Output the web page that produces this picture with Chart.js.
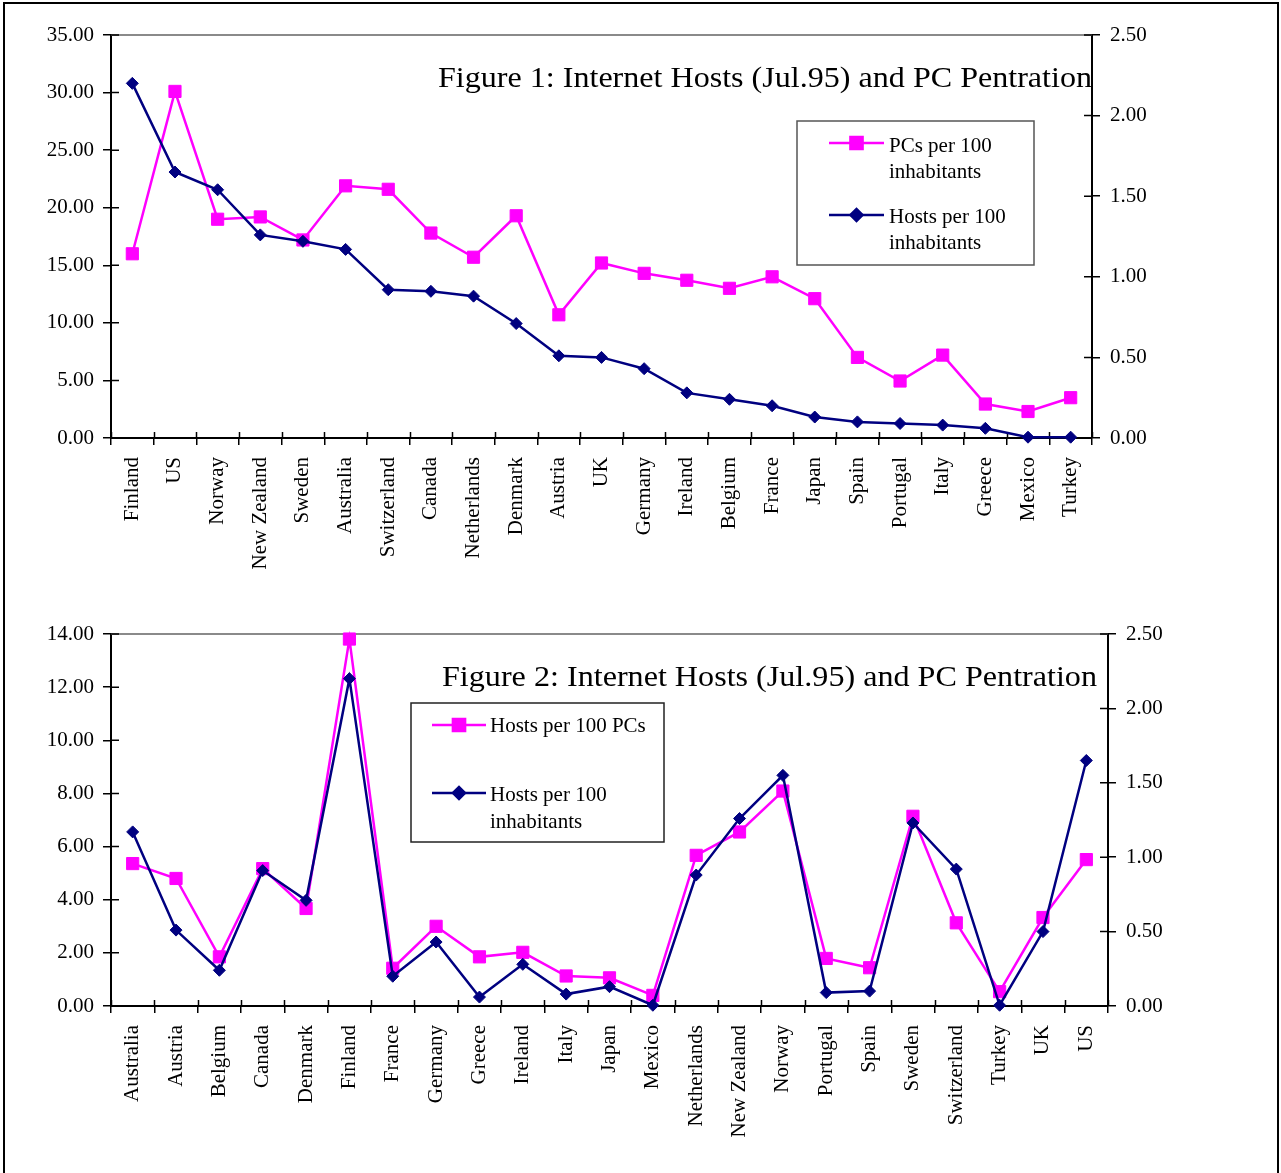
<!DOCTYPE html>
<html>
<head>
<meta charset="utf-8">
<title>Internet Hosts (Jul.95) and PC Pentration</title>
<script src="https://cdn.jsdelivr.net/npm/chart.js@4.4.1/dist/chart.umd.min.js"></script>
<style>
  html, body { margin: 0; padding: 0; background: #fff; }
  body { width: 1281px; height: 1173px; position: relative; overflow: hidden; }
  #frame { position: absolute; left: 3px; top: 2px; width: 1272px; height: 1180px; border: 2px solid #000; }
  canvas { position: absolute; left: 0; }
  #fig1 { top: 0; }
  #fig2 { top: 600px; }
</style>
</head>
<body>
<div id="frame"></div>
<canvas id="fig1" width="1281" height="600"></canvas>
<canvas id="fig2" width="1281" height="573"></canvas>
<script>
// ---- Figure 1: countries ranked by hosts per 100 inhabitants ----
const fig1Countries = ['Finland', 'US', 'Norway', 'New Zealand', 'Sweden', 'Australia', 'Switzerland',
  'Canada', 'Netherlands', 'Denmark', 'Austria', 'UK', 'Germany', 'Ireland', 'Belgium', 'France',
  'Japan', 'Spain', 'Portugal', 'Italy', 'Greece', 'Mexico', 'Turkey'];
const fig1PCsPer100Inhabitants = [16.0, 30.1, 19.0, 19.2, 17.2, 21.9, 21.6, 17.8, 15.7, 19.3, 10.7, 15.2,
  14.3, 13.7, 13.0, 14.0, 12.1, 7.0, 4.95, 7.2, 2.95, 2.3, 3.5];
const fig1HostsPer100Inhabitants = [2.20, 1.65, 1.54, 1.26, 1.22, 1.17, 0.92, 0.91, 0.88, 0.71, 0.51, 0.50,
  0.43, 0.28, 0.24, 0.20, 0.13, 0.10, 0.09, 0.08, 0.06, 0.005, 0.005];

// ---- Figure 2: countries in alphabetical order ----
const fig2Countries = ['Australia', 'Austria', 'Belgium', 'Canada', 'Denmark', 'Finland', 'France',
  'Germany', 'Greece', 'Ireland', 'Italy', 'Japan', 'Mexico', 'Netherlands', 'New Zealand', 'Norway',
  'Portugal', 'Spain', 'Sweden', 'Switzerland', 'Turkey', 'UK', 'US'];
const fig2HostsPer100PCs = [5.36, 4.80, 1.85, 5.17, 3.67, 13.81, 1.42, 3.00, 1.85, 2.02, 1.13, 1.06, 0.40,
  5.67, 6.55, 8.09, 1.79, 1.44, 7.14, 3.13, 0.54, 3.33, 5.51];
const fig2HostsPer100Inhabitants = [1.17, 0.51, 0.24, 0.91, 0.71, 2.20, 0.20, 0.43, 0.06, 0.28, 0.08, 0.13,
  0.005, 0.88, 1.26, 1.55, 0.09, 0.10, 1.23, 0.92, 0.005, 0.50, 1.65];

// Axis ranges
const fig1LeftAxis = { max: 35, step: 5 };
const fig1RightAxis = { max: 2.5, step: 0.5 };
const fig2LeftAxis = { max: 14, step: 2 };
const fig2RightAxis = { max: 2.5, step: 0.5 };

const titles = {
  fig1: 'Figure 1: Internet Hosts (Jul.95) and PC Pentration',
  fig2: 'Figure 2: Internet Hosts (Jul.95) and PC Pentration'
};
const seriesNames = {
  pcsPerInhabitant: ['PCs per 100', 'inhabitants'],
  hostsPerInhabitant: ['Hosts per 100', 'inhabitants'],
  hostsPerPC: ['Hosts per 100 PCs']
};

const MAGENTA = '#ff00ff';
const NAVY = '#000080';
const SERIF = '"Liberation Serif", "Times New Roman", serif';

Chart.defaults.font.family = SERIF;
Chart.defaults.color = '#000';

// Plot frame top line, inward halves of tick marks, title and boxed legend
const decor = {
  id: 'decor',
  beforeDatasetsDraw(chart) {
    const { ctx, chartArea: a, scales } = chart;
    ctx.save();
    ctx.strokeStyle = '#8a8a8a';
    ctx.lineWidth = 2;
    ctx.beginPath();
    ctx.moveTo(a.left, a.top);
    ctx.lineTo(a.right, a.top);
    ctx.stroke();

    ctx.strokeStyle = '#000';
    ctx.lineWidth = 1.5;
    ctx.beginPath();
    const x = scales.x;
    for (let i = 0; i <= x.ticks.length; i++) {
      const px = Math.round(x.getPixelForValue(i - 0.5)) + 0.5;
      ctx.moveTo(px, a.bottom);
      ctx.lineTo(px, a.bottom - 6);
    }
    scales.y.ticks.forEach((t, i) => {
      const py = scales.y.getPixelForTick(i);
      ctx.moveTo(a.left, py);
      ctx.lineTo(a.left + 8, py);
    });
    scales.y1.ticks.forEach((t, i) => {
      const py = scales.y1.getPixelForTick(i);
      ctx.moveTo(a.right, py);
      ctx.lineTo(a.right - 8, py);
    });
    ctx.stroke();
    ctx.restore();
  },
  afterDraw(chart, args, opts) {
    const { ctx } = chart;
    ctx.save();
    // title, set in a slightly widened serif so it spans from x to right
    const T = opts.title;
    ctx.fillStyle = '#000';
    ctx.font = '30px ' + SERIF;
    ctx.textAlign = 'left';
    ctx.textBaseline = 'alphabetic';
    const w = ctx.measureText(T.text).width;
    const sx = (T.right - T.x) / w;
    ctx.save();
    ctx.translate(T.x, T.y);
    ctx.scale(sx, 1);
    ctx.fillText(T.text, 0, 0);
    ctx.restore();

    // legend box
    const L = opts.legend;
    ctx.fillStyle = '#fff';
    ctx.fillRect(L.box[0], L.box[1], L.box[2], L.box[3]);
    ctx.strokeStyle = L.border;
    ctx.lineWidth = 1.5;
    ctx.strokeRect(L.box[0], L.box[1], L.box[2], L.box[3]);

    L.items.forEach(item => {
      const ds = chart.data.datasets[item.dataset];
      ctx.strokeStyle = ds.borderColor;
      ctx.lineWidth = ds.borderWidth;
      ctx.beginPath();
      ctx.moveTo(L.lineX[0], item.lineY);
      ctx.lineTo(L.lineX[1], item.lineY);
      ctx.stroke();
      ctx.fillStyle = ds.pointBackgroundColor;
      ctx.strokeStyle = ds.pointBorderColor;
      Chart.helpers.drawPoint(ctx, {
        pointStyle: ds.pointStyle,
        radius: ds.pointRadius,
        rotation: 0,
        borderWidth: ds.pointBorderWidth
      }, (L.lineX[0] + L.lineX[1]) / 2, item.lineY);
      ctx.fillStyle = '#000';
      ctx.font = '21px ' + SERIF;
      ctx.textAlign = 'left';
      ctx.textBaseline = 'alphabetic';
      item.lines.forEach((txt, k) => ctx.fillText(txt, L.textX, item.baseY + k * L.lineGap));
    });
    ctx.restore();
  }
};

function lineSeries(data, color, style, radius, axis) {
  return {
    data,
    yAxisID: axis,
    borderColor: color,
    backgroundColor: color,
    borderWidth: 2.5,
    tension: 0,
    pointStyle: style,
    pointRadius: radius,
    pointHoverRadius: radius,
    pointBackgroundColor: color,
    pointBorderColor: color,
    pointBorderWidth: 1,
    clip: false
  };
}

function buildChart(canvas, cfg) {
  const tickFont = { size: 21, family: SERIF };
  const twoDecimals = v => Number(v).toFixed(2);
  return new Chart(canvas, {
    type: 'line',
    data: {
      labels: cfg.labels,
      // hosts series first so it is drawn on top
      datasets: [
        lineSeries(cfg.hosts, NAVY, 'rectRot', 6, 'y1'),
        lineSeries(cfg.other, MAGENTA, 'rect', 8.6, 'y')
      ]
    },
    options: {
      responsive: false,
      animation: false,
      events: [],
      layout: { padding: { top: cfg.top, left: 0, right: 0, bottom: 0 } },
      plugins: {
        legend: { display: false },
        tooltip: { enabled: false },
        title: { display: false },
        decor: { title: cfg.title, legend: cfg.legend }
      },
      scales: {
        x: {
          type: 'category',
          offset: true,
          grid: { offset: true, drawOnChartArea: false, drawTicks: true, tickLength: 7, color: '#000', lineWidth: 1.5 },
          border: { display: true, color: '#000', width: 2 },
          ticks: { autoSkip: false, maxRotation: 90, minRotation: 90, padding: 12, font: tickFont, color: '#000' },
          afterFit(s) { s.height = cfg.xAxisHeight; }
        },
        y: {
          position: 'left',
          min: 0,
          max: cfg.leftAxis.max,
          grid: { drawOnChartArea: false, drawTicks: true, tickLength: 8, color: '#000', lineWidth: 1.5 },
          border: { display: true, color: '#000', width: 2 },
          ticks: { stepSize: cfg.leftAxis.step, callback: twoDecimals, padding: 9, font: tickFont, color: '#000' },
          afterFit(s) { s.width = cfg.leftWidth; }
        },
        y1: {
          position: 'right',
          min: 0,
          max: cfg.rightAxis.max,
          grid: { drawOnChartArea: false, drawTicks: true, tickLength: 8, color: '#000', lineWidth: 1.5 },
          border: { display: true, color: '#000', width: 2 },
          ticks: { stepSize: cfg.rightAxis.step, callback: twoDecimals, padding: 10, font: tickFont, color: '#000' },
          afterFit(s) { s.width = cfg.rightWidth; }
        }
      }
    },
    plugins: [decor]
  });
}

buildChart(document.getElementById('fig1'), {
  labels: fig1Countries,
  hosts: fig1HostsPer100Inhabitants,
  other: fig1PCsPer100Inhabitants,
  leftAxis: fig1LeftAxis,
  rightAxis: fig1RightAxis,
  top: 35,
  leftWidth: 111,
  rightWidth: 189,
  xAxisHeight: 162,
  title: { text: titles.fig1, x: 438, right: 1092, y: 87 },
  legend: {
    box: [797, 121, 237, 144],
    border: '#555',
    lineX: [829, 884],
    textX: 889,
    lineGap: 26,
    items: [
      { dataset: 1, lineY: 143, baseY: 152, lines: seriesNames.pcsPerInhabitant },
      { dataset: 0, lineY: 215, baseY: 223, lines: seriesNames.hostsPerInhabitant }
    ]
  }
});

buildChart(document.getElementById('fig2'), {
  labels: fig2Countries,
  hosts: fig2HostsPer100Inhabitants,
  other: fig2HostsPer100PCs,
  leftAxis: fig2LeftAxis,
  rightAxis: fig2RightAxis,
  top: 34,
  leftWidth: 111,
  rightWidth: 173,
  xAxisHeight: 167,
  title: { text: titles.fig2, x: 442, right: 1097, y: 86 },
  legend: {
    box: [411, 103, 253, 139],
    border: '#222',
    lineX: [432, 486],
    textX: 490,
    lineGap: 26.5,
    items: [
      { dataset: 1, lineY: 125, baseY: 132, lines: seriesNames.hostsPerPC },
      { dataset: 0, lineY: 193, baseY: 201, lines: seriesNames.hostsPerInhabitant }
    ]
  }
});
</script>
</body>
</html>
